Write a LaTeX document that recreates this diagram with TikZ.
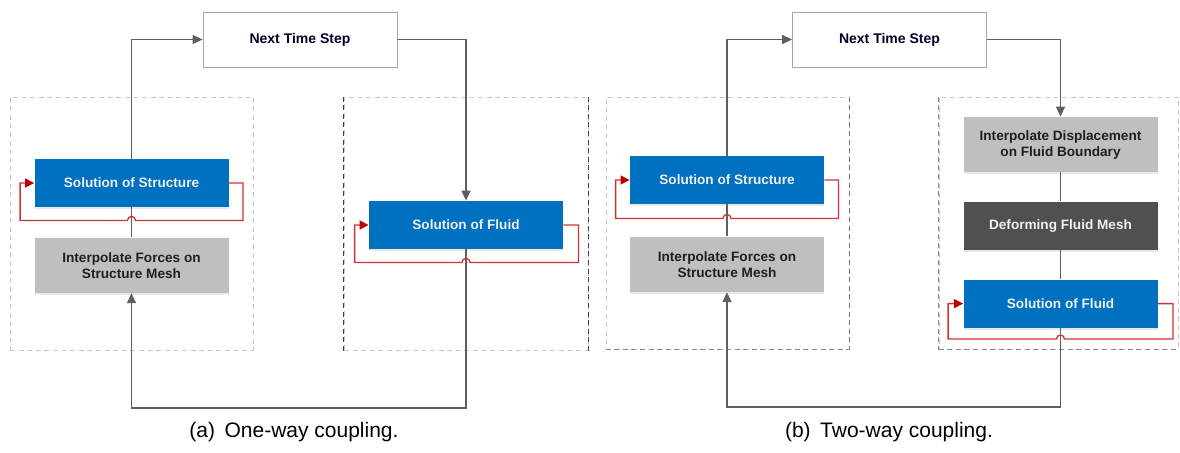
\documentclass[tikz,border=0pt]{standalone}
\usepackage{fontspec}
\setmainfont{Liberation Sans}
\usetikzlibrary{shapes, arrows.meta, positioning, calc, shadows}

\definecolor{solblue}{RGB}{0,112,192}
\definecolor{interpgray}{RGB}{191,191,191}
\definecolor{meshgray}{RGB}{80,80,80}
\definecolor{linkgray}{RGB}{95,95,95}
\definecolor{loopred}{RGB}{205,50,50}
\definecolor{tipred}{RGB}{192,0,0}

\begin{document}
\begin{tikzpicture}[x=0.5pt, y=-0.5pt, node distance=15pt,
    % Define node styles that set colours, box size and font size.
    solver/.style={
      rectangle, minimum width=97pt, minimum height=24pt,
      inner sep=0pt, fill=solblue, text=white!94!black,
      align=center, font=\fontsize{6.8}{8}\selectfont\bfseries,
      drop shadow={shadow xshift=0pt, shadow yshift=-1.2pt, opacity=0.3, fill=gray!60}
    },
    interp/.style={solver, fill=interpgray, text=black!88, minimum height=27.5pt},
    mesh/.style={solver, fill=meshgray},
    timestep/.style={
      rectangle, minimum width=97pt, minimum height=27.5pt,
      inner sep=0pt, draw=gray!70, fill=white, text=black!85!blue,
      font=\fontsize{7}{8}\selectfont\bfseries,
      drop shadow={shadow xshift=0pt, shadow yshift=-0.7pt, opacity=0.85, fill=black}
    },
    frame/.style={
      rectangle, draw=gray!45, dash pattern=on 2.5pt off 1.8pt,
      line width=0.5pt, inner sep=0pt, minimum width=121.5pt, minimum height=126.5pt
    },
    frameside/.style={draw=black!75, dash pattern=on 2.5pt off 1.8pt, line width=0.6pt},
    link/.style={draw=linkgray, line width=0.7pt},
    arrow/.style={link, -{Triangle[length=5pt, width=4.5pt]}},
    feedback/.style={draw=loopred, line width=0.65pt, -{Triangle[length=4.5pt, width=4.5pt, color=tipred]}},
    caption/.style={font=\fontsize{10.5}{12}\selectfont, anchor=base}
]
\useasboundingbox (0,0) rectangle (1180,452);

% (a) One-way coupling
\node [timestep] (ntsA) at (300,39.5) {Next Time Step};

% Structure side
\node [frame] (frameA1) at (131.5,223.5) {};
\node [solver] (solsA) at (131.5,183) {Solution of Structure};
\node [interp, below=15pt of solsA] (intfA) {Interpolate Forces on\\Structure Mesh};

% Fluid side
\node [frame, minimum width=122pt] (frameA2) at (466,223.5) {};
\node [solver] (solfA) at (466,225) {Solution of Fluid};

% (b) Two-way coupling
\node [timestep] (ntsB) at (889.5,39.5) {Next Time Step};

% Structure side
\node [frame, minimum height=126pt] (frameB1) at (727.5,223) {};
\node [solver] (solsB) at (727,180) {Solution of Structure};
\node [interp, below=16pt of solsB] (intfB) {Interpolate Forces on\\Structure Mesh};

% Fluid side, placed as a column under the displacement step
\node [frame, minimum width=119.5pt, minimum height=126pt] (frameB2) at (1058.5,223) {};
\node [interp] (dispB) at (1060.5,144.5) {Interpolate Displacement\\on Fluid Boundary};
\node [mesh, below=14.5pt of dispB] (defB) {Deforming Fluid Mesh};
\node [solver, below=14.5pt of defB] (solfB) {Solution of Fluid};

% Captions
\node [caption] (capA) at (294,437) {(a)\hspace{0.45em}One-way coupling.};
\node [caption] (capB) at (889,437) {(b)\hspace{0.45em}Two-way coupling.};

% Darker dashed sides of some frames
\draw [frameside] (frameA2.north west) -- (frameA2.south west);
\draw [frameside] (frameA2.north east) -- (frameA2.south east);
\draw [frameside, draw=black!55] (frameB1.north east) -- (frameB1.south east);
\draw [frameside, draw=black!45] (frameB1.south west) -- (frameB1.south east);
\draw [frameside, draw=black!45] (frameB2.north west) -- (frameB2.south west);
\draw [frameside, draw=black!45] (frameB2.south west) -- (frameB2.south east);

% Bottom return lines
\coordinate (baseA) at (0,408);
\coordinate (baseB) at (0,407);

% Draw arrows connecting the nodes
\draw [link] (intfA) -- (solsA);
\draw [arrow] (solsA) |- (ntsA);
\draw [arrow] (ntsA) -| (solfA);
\draw [arrow] (solfA) |- (intfA |- baseA) -- (intfA);

\draw [link] (intfB) -- (solsB);
\draw [arrow] (solsB) |- (ntsB);
\draw [arrow] (ntsB) -| (dispB);
\draw [link] (dispB) -- (defB);
\draw [link] (defB) -- (solfB);
\draw [arrow] (solfB) |- (intfB |- baseB) -- (intfB);

% Iteration loops of the solvers, hopping over the grey lines
\draw [feedback] (solsA.east) -- ++(14,0) |- ($(solsA.south)+(4,13)$)
  arc [start angle=0, end angle=-180, radius=4] -| ($(solsA.west)+(-14,0)$) -- (solsA.west);
\draw [feedback] (solfA.east) -- ++(15,0) |- ($(solfA.south)+(4,13)$)
  arc [start angle=0, end angle=-180, radius=4] -| ($(solfA.west)+(-14,0)$) -- (solfA.west);
\draw [feedback] (solsB.east) -- ++(14,0) |- ($(solsB.south)+(4,14)$)
  arc [start angle=0, end angle=-180, radius=4] -| ($(solsB.west)+(-14,0)$) -- (solsB.west);
\draw [feedback] (solfB.east) -- ++(15,0) |- ($(solfB.south)+(4,11)$)
  arc [start angle=0, end angle=-180, radius=4] -| ($(solfB.west)+(-15,0)$) -- (solfB.west);

\end{tikzpicture}
\end{document}
